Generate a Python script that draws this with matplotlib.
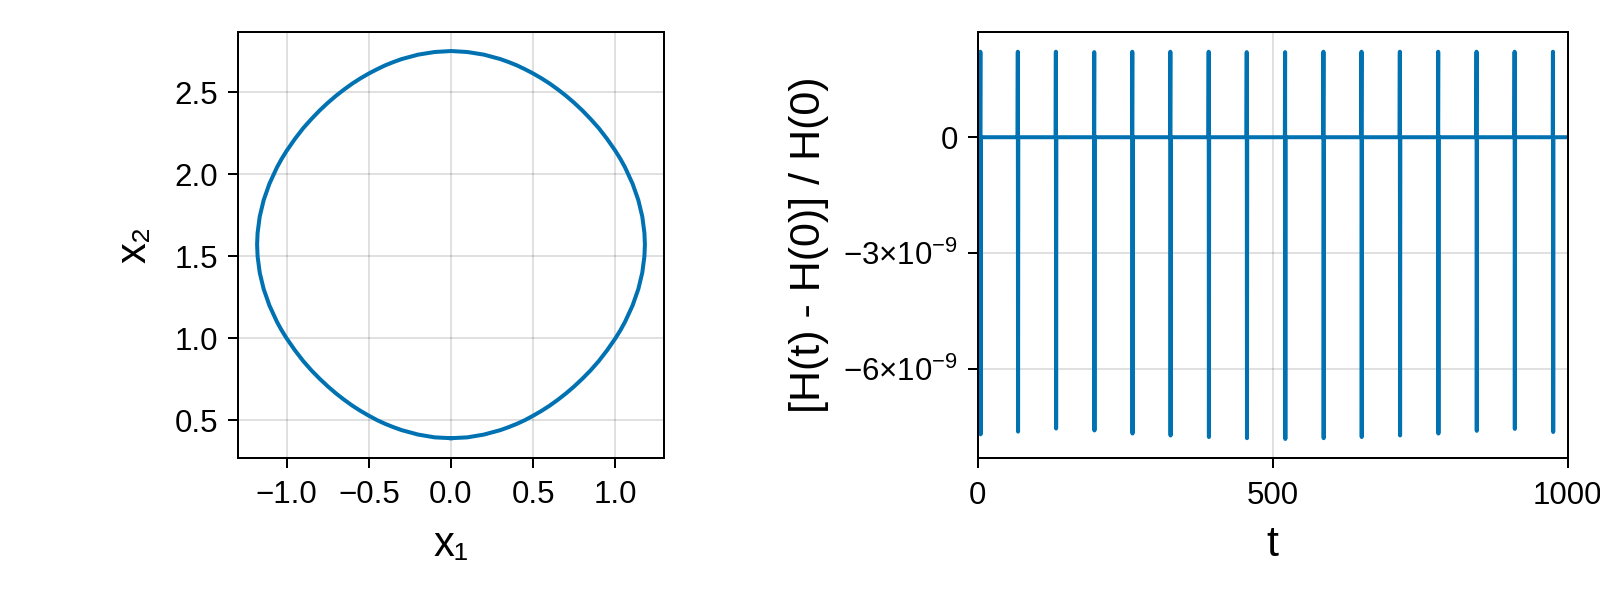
import numpy as np
import matplotlib
matplotlib.use("Agg")
import matplotlib.pyplot as plt

plt.rcParams['font.family'] = ['Liberation Sans', 'DejaVu Sans']
plt.rcParams['mathtext.fontset'] = 'custom'
plt.rcParams['mathtext.rm'] = 'Liberation Sans'
plt.rcParams['mathtext.it'] = 'Liberation Sans:italic'

# phase-space orbit (x1, x2)
x1 = [0.0, 0.1, 0.2, 0.3, 0.35, 0.4, 0.45, 0.5, 0.55, 0.6, 0.65, 0.7, 0.75,
      0.8, 0.85, 0.9, 0.95, 1.0, 1.0315, 1.059, 1.105, 1.140, 1.164, 1.177,
      1.180, 1.177, 1.164, 1.140, 1.105, 1.059, 1.0315, 1.0, 0.95, 0.9,
      0.85, 0.8, 0.75, 0.7, 0.65, 0.6, 0.55, 0.5, 0.45, 0.4, 0.35, 0.3,
      0.2, 0.1, 0.0,
      -0.1, -0.2, -0.3, -0.35, -0.4, -0.45, -0.5, -0.55, -0.6, -0.65, -0.7,
      -0.75, -0.8, -0.85, -0.9, -0.95, -1.0, -1.0315, -1.059, -1.105,
      -1.140, -1.164, -1.177, -1.180, -1.177, -1.164, -1.140, -1.105,
      -1.059, -1.0315, -1.0, -0.95, -0.9, -0.85, -0.8, -0.75, -0.7, -0.65,
      -0.6, -0.55, -0.5, -0.45, -0.4, -0.35, -0.3, -0.2, -0.1, 0.0]
x2 = [0.391, 0.396, 0.413, 0.440, 0.458, 0.478, 0.501, 0.528, 0.557, 0.589,
      0.625, 0.664, 0.707, 0.754, 0.805, 0.862, 0.927, 0.999, 1.05, 1.1,
      1.2, 1.3, 1.4, 1.5, 1.571, 1.642, 1.742, 1.842, 1.942, 2.042, 2.092,
      2.143, 2.215, 2.280, 2.336, 2.388, 2.435, 2.478, 2.517, 2.553, 2.585,
      2.614, 2.640, 2.664, 2.684, 2.702, 2.729, 2.745, 2.751,
      2.745, 2.729, 2.702, 2.684, 2.664, 2.640, 2.614, 2.585, 2.553, 2.517,
      2.478, 2.435, 2.388, 2.336, 2.280, 2.215, 2.143, 2.092, 2.042, 1.942,
      1.842, 1.742, 1.642, 1.571, 1.5, 1.4, 1.3, 1.2, 1.1, 1.05, 0.999,
      0.927, 0.862, 0.805, 0.754, 0.707, 0.664, 0.625, 0.589, 0.557, 0.528,
      0.501, 0.478, 0.458, 0.440, 0.413, 0.396, 0.391]

# relative energy error: spikes (times, peak, trough) in units of 1e-9
spike_t = [4.5, 68, 132.5, 197.5, 262, 326.5, 391.5, 456, 521, 586,
           650.5, 715.5, 780.5, 845.5, 910, 975]
spike_top = [2.21, 2.21, 2.21, 2.20, 2.21, 2.21, 2.21, 2.20, 2.20, 2.21,
             2.21, 2.21, 2.21, 2.21, 2.21, 2.21]
spike_bottom = [-7.68, -7.61, -7.53, -7.58, -7.66, -7.71, -7.75, -7.78,
                -7.80, -7.78, -7.75, -7.71, -7.66, -7.59, -7.54, -7.62]
t_end = 1000

blue = '#0072B2'
lw_px = 0.72  # points per pixel at dpi 100


def style_axis(ax):
    for s in ax.spines.values():
        s.set_linewidth(2 * lw_px)
    ax.tick_params(direction='out', length=10 * lw_px, width=2 * lw_px,
                   labelsize=22.5, pad=7)
    ax.tick_params(axis='x', pad=9)
    ax.grid(True, color='black', alpha=0.12, linewidth=2 * lw_px)
    ax.set_axisbelow(True)


fig = plt.figure(figsize=(16, 6), dpi=100)

# left: orbit
ax1 = fig.add_axes([237.7 / 1600, 1 - 457.7 / 600, 426.6 / 1600, 425.7 / 600])
ax1.plot(x1, x2, color=blue, linewidth=4 * lw_px)
ax1.set_xlim(-1.298, 1.298)
ax1.set_ylim(0.272, 2.867)
ax1.set_xticks([-1.0, -0.5, 0.0, 0.5, 1.0])
ax1.set_xticklabels(['−1.0', '−0.5', '0.0', '0.5', '1.0'])
ax1.set_yticks([0.5, 1.0, 1.5, 2.0, 2.5])
ax1.set_yticklabels(['0.5', '1.0', '1.5', '2.0', '2.5'])
ax1.set_xlabel('x₁', fontsize=30, labelpad=11)
ax1.set_ylabel('x₂', fontsize=30, labelpad=14)
style_axis(ax1)

# right: energy error
t_line = [0.0]
e_line = [0.0]
for ts, top, bot in zip(spike_t, spike_top, spike_bottom):
    t_line += [ts - 0.4, ts, ts + 0.4, ts + 0.8]
    e_line += [0.0, top * 1e-9, bot * 1e-9, 0.0]
t_line.append(t_end)
e_line.append(0.0)

ax2 = fig.add_axes([977.7 / 1600, 1 - 458.3 / 600, 590 / 1600, 426.3 / 600])
ax2.plot(t_line, e_line, color=blue, linewidth=4 * lw_px)
ax2.set_xlim(0, 1000)
ax2.set_ylim(-8.30e-9, 2.72e-9)
ax2.set_xticks([0, 500, 1000])
ax2.set_xticklabels(['0', '500', '1000'])
ax2.set_yticks([0, -3e-9, -6e-9])
ax2.set_yticklabels(['0', r'$\mathregular{-3{\times}10^{-9}}$',
                     r'$\mathregular{-6{\times}10^{-9}}$'])
ax2.set_xlabel('t', fontsize=31, labelpad=10)
ax2.set_ylabel('[H(t) - H(0)] / H(0)', fontsize=31, labelpad=10)
style_axis(ax2)

fig.savefig('out.png', dpi=100)
